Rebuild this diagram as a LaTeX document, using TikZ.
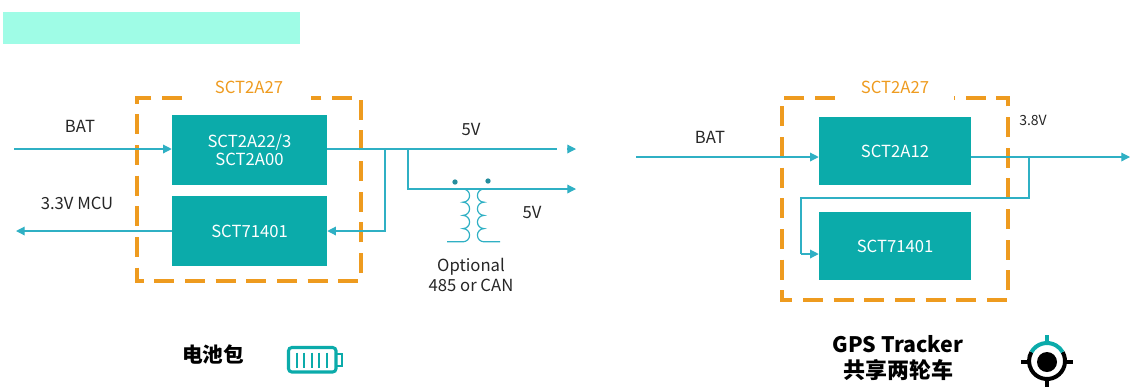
\documentclass[tikz,border=0pt]{standalone}
\usepackage{fontspec}
\setmainfont{Noto Sans CJK SC}
\usetikzlibrary{arrows.meta}
\definecolor{chipteal}{HTML}{0BABAA}
\definecolor{wireblue}{HTML}{2FB0C4}
\definecolor{groupor}{HTML}{EE9B1F}
\definecolor{bannermint}{HTML}{9FFCE6}
\tikzset{
chip/.style={fill=chipteal,text=white,minimum width=#1,minimum height=51pt,inner sep=0pt,font=\fontsize{12.5}{15}\selectfont,align=center},
wire/.style={wireblue,line width=0.9pt},
tip/.style={-{Triangle[length=6.5pt,width=6.5pt]}},
group/.style={groupor,line width=2.3pt,dash pattern=on 15pt off 8pt},
lbl/.style={font=\fontsize{12.5}{14}\selectfont,text=black!85},
}
\begin{document}
\begin{tikzpicture}[x=0.75pt,y=-0.75pt]
\useasboundingbox (0,0) rectangle (1130,387);
\node[fill=bannermint,minimum width=222.75pt,minimum height=24pt,inner sep=0pt] (banner) at (151.5,28) {};
\node[chip=116.25pt,minimum height=52.5pt] (buck) at (249.5,150) {SCT2A22/3\\[-1pt]SCT2A00};
\node[chip=116.25pt,minimum height=52.5pt] (ldo) at (249.5,231) {SCT71401};
\node[chip=114pt] (buckr) at (895,151) {SCT2A12};
\node[chip=114pt] (ldor) at (895,246) {SCT71401};
\draw[group] (182,98) -- (137,98) -- (137,281) -- (361,281) -- (361,98) -- (311,98);
\draw[group] (835,98) -- (782,98) -- (782,300) -- (1008,300) -- (1008,98) -- (954,98);
\node[lbl,text=groupor] (groupl) at (249,87) {SCT2A27};
\node[lbl,text=groupor] (groupr) at (895,87) {SCT2A27};
\node[lbl] (batl) at (80,126) {BAT};
\node[lbl] (mcu) at (77,203) {3.3V MCU};
\node[lbl] (fivea) at (471,129) {5V};
\node[lbl] (fiveb) at (532,212) {5V};
\node[lbl] (opt) at (471,267) {Optional};
\node[lbl] (can) at (471,285) {485 or CAN};
\node[lbl] (batr) at (710,137) {BAT};
\node[lbl,font=\fontsize{10.5}{12}\selectfont] (volt) at (1033,120) {3.8V};
\node[font=\bfseries\fontsize{16}{18}\selectfont] (gps) at (898,344) {GPS Tracker};
\node[font=\bfseries\fontsize{16.5}{18}\selectfont] (share) at (898,370) {共享两轮车};
\node[font=\bfseries\fontsize{15.5}{18}\selectfont] (pack) at (213,355) {电池包};
\coordinate (inl) at (14,149);
\coordinate (mcuend) at (16,231);
\coordinate (outa) at (557,149);
\coordinate (tipa) at (567,149);
\coordinate (tipb) at (576,149);
\coordinate (joina) at (385,149);
\coordinate (joinb) at (408,149);
\coordinate (cornb) at (408,189);
\coordinate (outb) at (576,189);
\coordinate (inr) at (636,157);
\coordinate (outr) at (1130,157);
\coordinate (joinr) at (1029,157);
\coordinate (cornr) at (1029,198);
\coordinate (cornl) at (801,198);
\coordinate (feedr) at (801,254);
\draw[wire,tip] (inl) -- (buck.west |- inl);
\draw[wire,tip] (ldo.west) -- (mcuend);
\draw[wire] (buck.east |- outa) -- (outa);
\draw[wire,tip] (tipa) -- (tipb);
\draw[wire,tip] (joina) -- (joina |- ldo.east) -- (ldo.east);
\draw[wire,tip] (joinb) -- (cornb) -- (outb);
\draw[wire,tip] (inr) -- (buckr.west |- inr);
\draw[wire,tip] (buckr.east |- outr) -- (outr);
\draw[wire] (joinr) -- (cornr) -- (cornl) -- (feedr);
\draw[wire,tip] (feedr) -- (ldor.west |- feedr);
\draw[wire] (447,189) -- (463,189) arc (-90:90:6.6) arc (-90:90:6.6) arc (-90:90:6.6) arc (-90:90:6.6) -- (447,241.8);
\draw[wire] (500,189) -- (484,189) arc (-90:-270:6.6) arc (-90:-270:6.6) arc (-90:-270:6.6) arc (-90:-270:6.6) -- (500,241.8);
\fill[wireblue!80!black] (455,182) circle (2pt) (488,181) circle (2pt);
\draw[chipteal,line width=2.3pt,rounded corners=2.5pt] (288.5,347.5) rectangle (336,372);
\draw[chipteal,line width=1.7pt] (336,354) -- (342,354) -- (342,366) -- (336,366);
\foreach \i in {297,304,312,319,327}
\draw[chipteal,line width=2pt] (\i,352.5) -- (\i,367.5);
\draw[black,line width=3pt] (1062.6,352) arc (-30:210:18);
\draw[chipteal,line width=3pt] (1031.4,352) arc (-150:-30:18);
\fill[black] (1047,362) circle (7.5pt);
\draw[chipteal,line width=3pt] (1047,335) -- (1047,344);
\draw[black,line width=3pt] (1021,362) -- (1029,362) (1065,362) -- (1073,362) (1047,380) -- (1047,387);
\end{tikzpicture}
\end{document}
